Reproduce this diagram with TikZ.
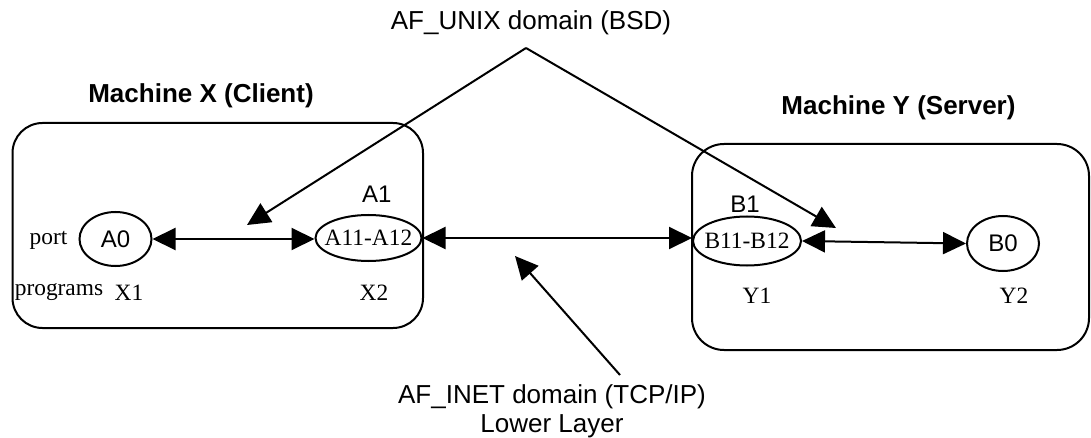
\documentclass[tikz,border=0pt]{standalone}
\usepackage{fontspec}
\setmainfont{Liberation Serif}
\setsansfont{Liberation Sans}
\usetikzlibrary{arrows.meta,shapes.geometric}
\begin{document}
\begin{tikzpicture}[x=0.5pt,y=-0.5pt,
  machine/.style={line width=1pt},
  sock/.style={ellipse, draw, line width=1pt, inner sep=0pt},
  headline/.style={font=\fontsize{13}{15}\selectfont\sffamily, anchor=base, inner sep=0pt},
  boldline/.style={font=\fontsize{13}{15}\selectfont\sffamily\bfseries, anchor=base, inner sep=0pt},
  serifl/.style={font=\fontsize{11.7}{14}\selectfont\rmfamily, anchor=base, inner sep=0pt},
  sansl/.style={font=\fontsize{12}{14}\selectfont\sffamily, anchor=base, inner sep=0pt},
  tipT/.tip={Triangle[length=11.5pt,width=11pt]},
  link/.style={line width=1pt, tipT-tipT},
  pointer/.style={line width=1pt, -tipT}
]
\useasboundingbox (0,0) rectangle (1091,438);

% machine boxes
\draw[machine, rounded corners=15pt] (12.5,123) rectangle (423,328);
\draw[machine, rounded corners=16pt] (692,144) rectangle (1089,350);

% titles
\node[boldline] (mx) at (201,103) {Machine X (Client)};
\node[boldline] (my) at (898.5,115) {Machine Y (Server)};
\node[headline] (unix) at (531,30) {AF\_UNIX domain (BSD)};
\node[headline] (inet) at (552,403) {AF\_INET domain (TCP/IP)};
\node[headline] (lower) at (552,432) {Lower Layer};

% sockets
\node[sock, minimum width=36pt, minimum height=27pt, font=\fontsize{12}{14}\selectfont\sffamily] (A0) at (115.5,239) {\raisebox{-2pt}{\makebox[0pt]{A0}}};
\node[sock, minimum width=53pt, minimum height=23pt, font=\fontsize{11.7}{14}\selectfont\rmfamily] (A1) at (368.5,238) {\makebox[0pt]{A11-A12}};
\node[sock, minimum width=54pt, minimum height=24.5pt, font=\fontsize{11.7}{14}\selectfont\rmfamily] (B1) at (747,241) {\makebox[0pt]{B11-B12}};
\node[sock, minimum width=36pt, minimum height=27.5pt, font=\fontsize{12}{14}\selectfont\sffamily] (B0) at (1003,243.5) {\raisebox{-4pt}{\makebox[0pt]{B0}}};

% labels
\node[serifl] (port) at (48.5,244) {port};
\node[serifl] (prog) at (59,295) {programs};
\node[serifl] (x1) at (129,300) {X1};
\node[serifl] (x2) at (374,300) {X2};
\node[serifl] (y1) at (757,303) {Y1};
\node[serifl] (y2) at (1014,303) {Y2};
\node[sansl] (a1l) at (376.7,203) {A1};
\node[sansl] (b1l) at (745,213) {B1};

% connectors
\draw[link] (A0.east) -- (A0.east -| A1.west);
\draw[link] (A1.east) -- (A1.east -| B1.west);
\draw[link] (B1.east) -- (B0.west);

\coordinate (apex) at (526,48);
\coordinate (ltip) at (247,225);
\coordinate (rtip) at (836,228);
\draw[pointer] (apex) -- (ltip);
\draw[pointer] (apex) -- (rtip);

\coordinate (itail) at (620,375);
\coordinate (itip) at (515,256);
\draw[pointer] (itail) -- (itip);
\end{tikzpicture}
\end{document}
